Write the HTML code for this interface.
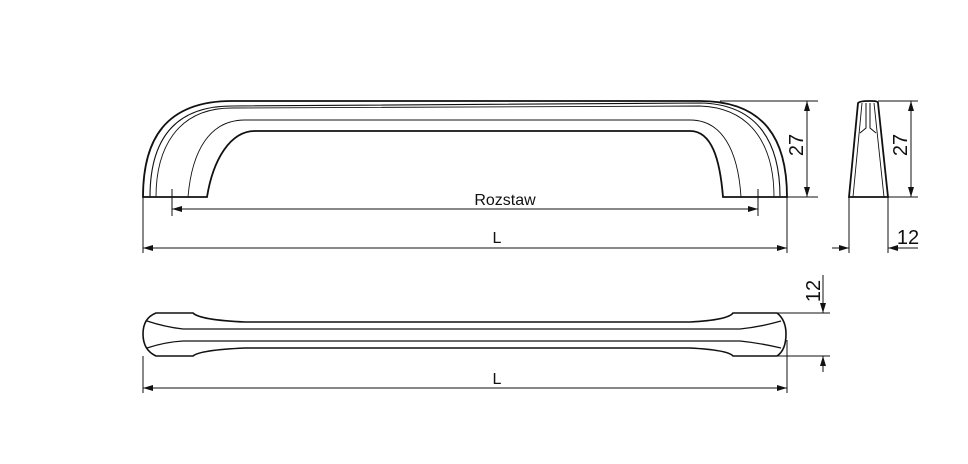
<!DOCTYPE html>
<html><head><meta charset="utf-8"><style>
html,body{margin:0;padding:0;background:#fff;}
svg{display:block}
text{font-family:"Liberation Sans",sans-serif;fill:#111}
</style></head><body>
<svg width="968" height="464" viewBox="0 0 968 464" xmlns="http://www.w3.org/2000/svg">
<defs>
<marker id="a" markerWidth="10" markerHeight="6" refX="10" refY="3" orient="auto-start-reverse" markerUnits="userSpaceOnUse"><path d="M0,0 L10,3 L0,6 Z" fill="#111"/></marker>
</defs>
<g fill="none" stroke="#111">
<path d="M143,197 C143,140 165,101 232,101 L700,101 C765,101 787,140 787,197 L723,197 C720,160 712,131 690,131 L255,131 C230,131 213,160 207,197 Z" stroke-width="1.8"/>
<path d="M150,197 C150,145 170,106 232,106 L700,103 C760,104 780,145 780,197" stroke-width="1.1"/>
<path d="M156,197 C156,150 176,108 232,108 L700,106 C755,108 774,150 774,197" stroke-width="0.9"/>
<path d="M188,197 C192,150 210,120 245,120 L690,120 C722,120 738,150 741,197" stroke-width="0.9"/>
<line x1="172" y1="189" x2="172" y2="216" stroke-width="1"/>
<line x1="758" y1="189" x2="758" y2="216" stroke-width="1"/>
<line x1="172" y1="209" x2="758" y2="209" stroke-width="1" marker-start="url(#a)" marker-end="url(#a)"/>
<line x1="143" y1="197" x2="143" y2="253" stroke-width="1"/>
<line x1="787" y1="197" x2="787" y2="253" stroke-width="1"/>
<line x1="143" y1="248" x2="787" y2="248" stroke-width="1" marker-start="url(#a)" marker-end="url(#a)"/>
<line x1="720" y1="101" x2="818" y2="101" stroke-width="1"/>
<line x1="787" y1="197" x2="818" y2="197" stroke-width="1"/>
<line x1="807" y1="101" x2="807" y2="197" stroke-width="1" marker-start="url(#a)" marker-end="url(#a)"/>
<path d="M849,197 L858,103 Q860,101 868,101 L872,101 Q878,101 878,103 L888,197 Z" stroke-width="1.8"/>
<path d="M853,197 L862,103 M884,197 L874,103" stroke-width="0.9"/>
<path d="M866,103 L866,128 L860,133 M870,103 L870,128 L876,133" stroke-width="1"/>
<line x1="878" y1="101" x2="918" y2="101" stroke-width="1"/>
<line x1="888" y1="197" x2="918" y2="197" stroke-width="1"/>
<line x1="911" y1="101" x2="911" y2="197" stroke-width="1" marker-start="url(#a)" marker-end="url(#a)"/>
<line x1="849" y1="197" x2="849" y2="253" stroke-width="1"/>
<line x1="888" y1="197" x2="888" y2="253" stroke-width="1"/>
<line x1="832" y1="248" x2="849" y2="248" stroke-width="1" marker-end="url(#a)"/>
<line x1="918" y1="248" x2="888" y2="248" stroke-width="1" marker-end="url(#a)"/>
<path d="M156,313 L193,313 Q200,320 245,322 L690,322 Q728,320 733,313 L777,313 Q786,320 786,334 Q786,350 777,356 L733,356 Q728,350 690,348 L245,348 Q200,350 193,356 L156,356 Q143,350 143,334 Q143,318 156,313 Z" stroke-width="1.6"/>
<path d="M147,321 Q165,327 183,329 L740,329 Q760,327 781,321" stroke-width="1.3"/>
<path d="M147,348 Q165,342 183,341 L740,341 Q760,343 781,348" stroke-width="1.3"/>
<line x1="143" y1="356" x2="143" y2="393" stroke-width="1"/>
<line x1="787" y1="340" x2="787" y2="393" stroke-width="1"/>
<line x1="143" y1="388" x2="787" y2="388" stroke-width="1" marker-start="url(#a)" marker-end="url(#a)"/>
<line x1="777" y1="313" x2="830" y2="313" stroke-width="1"/>
<line x1="777" y1="356" x2="830" y2="356" stroke-width="1"/>
<line x1="823" y1="275" x2="823" y2="313" stroke-width="1" marker-end="url(#a)"/>
<line x1="823" y1="372" x2="823" y2="356" stroke-width="1" marker-end="url(#a)"/>
</g>
<text x="505" y="205" font-size="16" text-anchor="middle">Rozstaw</text>
<text x="497" y="243" font-size="16" text-anchor="middle">L</text>
<text x="497" y="384" font-size="16" text-anchor="middle">L</text>
<text x="0" y="0" font-size="20" text-anchor="middle" transform="translate(803,145) rotate(-90)">27</text>
<text x="0" y="0" font-size="20" text-anchor="middle" transform="translate(907,145) rotate(-90)">27</text>
<text x="908" y="244" font-size="20" text-anchor="middle">12</text>
<text x="0" y="0" font-size="20" text-anchor="middle" transform="translate(820,291) rotate(-90)">12</text>
</svg>
</body></html>
